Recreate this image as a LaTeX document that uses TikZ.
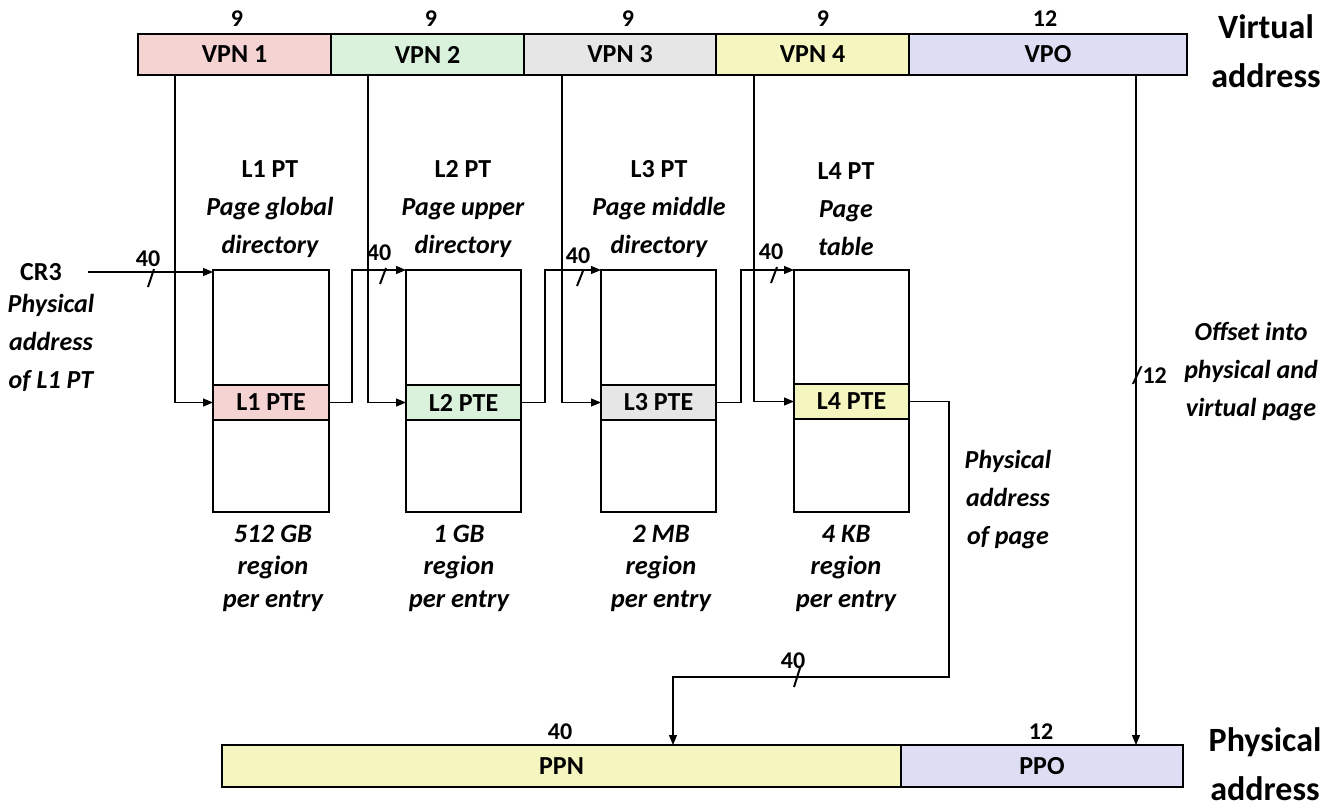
\documentclass[tikz,border=0pt]{standalone}
\usepackage{fontspec}
\setmainfont{Carlito}
\usetikzlibrary{arrows.meta,calc}
\definecolor{cpink}{HTML}{F5D3D3}
\definecolor{cgreen}{HTML}{DAF2DC}
\definecolor{cgray}{HTML}{E6E6E6}
\definecolor{cyellow}{HTML}{F5F5C0}
\definecolor{clav}{HTML}{DDDEF3}
\begin{document}
\begin{tikzpicture}[x=1pt,y=-1pt,
  field/.style={draw, line width=1.2pt, inner sep=0pt, outer sep=0pt, anchor=north west,
    font=\fontsize{26}{30}\selectfont\bfseries},
  num/.style={font=\fontsize{24}{26}\selectfont\bfseries, inner sep=0pt},
  lab/.style={font=\fontsize{26}{38}\selectfont\bfseries\itshape, align=center, inner sep=0pt},
  reg/.style={font=\fontsize{26.5}{32.5}\selectfont\bfseries\itshape, align=center, inner sep=0pt},
  big/.style={font=\fontsize{34}{49}\selectfont\bfseries, align=center, inner sep=0pt},
  conn/.style={line width=1.1pt},
  arr/.style={conn, -{Triangle[length=10pt,width=8pt]}},
  busm/.style={line width=2pt}]
\useasboundingbox (0,0) rectangle (1336,809);

% virtual address fields
\node[field, fill=cpink,   minimum width=193pt, minimum height=41pt] (vpn1) at (138,34) {VPN 1};
\node[field, fill=cgreen,  minimum width=193pt, minimum height=41pt] (vpn2) at (331,34) {VPN 2};
\node[field, fill=cgray,   minimum width=192pt, minimum height=41pt] (vpn3) at (524,34) {VPN 3};
\node[field, fill=cyellow, minimum width=193pt, minimum height=41pt] (vpn4) at (716,34) {VPN 4};
\node[field, fill=clav,    minimum width=278pt, minimum height=41pt] (vpo)  at (909,34) {VPO};
\node[num] (n1) at (237,19) {9};
\node[num] (n2) at (431,19) {9};
\node[num] (n3) at (628,19) {9};
\node[num] (n4) at (823,19) {9};
\node[num] (n5) at (1045,19) {12};
\node[big] (va) at (1266,51) {Virtual\\address};

% page tables
\node[field, minimum width=116pt, minimum height=242pt] (pt1) at (213,270) {};
\node[field, minimum width=115pt, minimum height=242pt] (pt2) at (406,270) {};
\node[field, minimum width=115pt, minimum height=242pt] (pt3) at (601,270) {};
\node[field, minimum width=115pt, minimum height=242pt] (pt4) at (794,270) {};
\node[field, fill=cpink,   minimum width=116pt, minimum height=35pt] (pte1) at (213,385) {L1 PTE};
\node[field, fill=cgreen,  minimum width=115pt, minimum height=35pt] (pte2) at (406,385) {L2 PTE};
\node[field, fill=cgray,   minimum width=115pt, minimum height=35pt] (pte3) at (601,385) {L3 PTE};
\node[field, fill=cyellow, minimum width=115pt, minimum height=35pt] (pte4) at (794,384) {L4 PTE};

% titles
\node[lab] (t1) at (270,209) {\upshape L1 PT\\Page global\\directory};
\node[lab] (t2) at (463,209) {\upshape L2 PT\\Page upper\\directory};
\node[lab] (t3) at (659,209) {\upshape L3 PT\\Page middle\\directory};
\node[lab] (t4) at (846,209) {\upshape L4 PT\\Page\\table};

% region labels
\node[reg] (r1) at (273,568) {512 GB\\region\\per entry};
\node[reg] (r2) at (459,568) {1 GB\\region\\per entry};
\node[reg] (r3) at (661,568) {2 MB\\region\\per entry};
\node[reg] (r4) at (846,568) {4 KB\\region\\per entry};

% CR3
\node[font=\fontsize{26}{30}\selectfont\bfseries, inner sep=0pt] (cr3) at (41,272) {CR3};
\node[lab] (cr3l) at (51,343) {Physical\\address\\of L1 PT};
\coordinate (cr3s) at (88,272);
\draw[arr] (cr3s) -- (cr3s -| pt1.west);
\node[num] (b0) at (148,259) {40};
\draw[busm] (154,269) -- (148,287);

% VPN -> PTE index lines
\coordinate (x1) at (175,0);
\coordinate (x2) at (368,0);
\coordinate (x3) at (562,0);
\coordinate (x4) at (754,0);
\draw[arr] (vpn1.south -| x1) |- (pte1.west);
\draw[arr] (vpn2.south -| x2) |- (pte2.west);
\draw[arr] (vpn3.south -| x3) |- (pte3.west);
\draw[arr] (vpn4.south -| x4) |- (pte4.west);

% PTE -> next table
\coordinate (k1) at (352,0);
\coordinate (k2) at (545,0);
\coordinate (k3) at (741,0);
\draw[arr] (pte1.east) -| (k1 |- pt2.north) -- (pt2.north west);
\draw[arr] (pte2.east) -| (k2 |- pt3.north) -- (pt3.north west);
\draw[arr] (pte3.east) -| (k3 |- pt4.north) -- (pt4.north west);
\node[num] (b1) at (379,253) {40};
\draw[busm] (386,268) -- (380,284);
\node[num] (b2) at (578,256) {40};
\draw[busm] (583,271) -- (577,286);
\node[num] (b3) at (771,252) {40};
\draw[busm] (777,267) -- (771,283);

% physical address
\node[field, fill=cyellow, minimum width=679pt, minimum height=42pt] (ppn) at (222,745) {PPN};
\node[field, fill=clav,    minimum width=282pt, minimum height=42pt] (ppo) at (901,745) {PPO};
\node[num] (n6) at (560,732) {40};
\node[num] (n7) at (1041,732) {12};
\node[big] (pa) at (1265,764) {Physical\\address};

% L4 PTE -> PPN
\coordinate (q1) at (949,677);
\coordinate (q2) at (673,677);
\draw[arr] (pte4.east) -| (q1) -- (q2) -- (q2 |- ppn.north);
\node[num] (b4) at (793,661) {40};
\draw[busm] (800,668) -- (794,687);
\node[lab] (pap) at (1008,500) {Physical\\address\\of page};

% VPO -> PPO
\coordinate (xv) at (1136,0);
\draw[arr] (vpo.south -| xv) -- (ppo.north -| xv);
\node[num, anchor=west] (s12) at (1132,376) {/12};
\node[lab] (off) at (1251,372) {Offset into\\physical and\\virtual page};
\end{tikzpicture}
\end{document}
